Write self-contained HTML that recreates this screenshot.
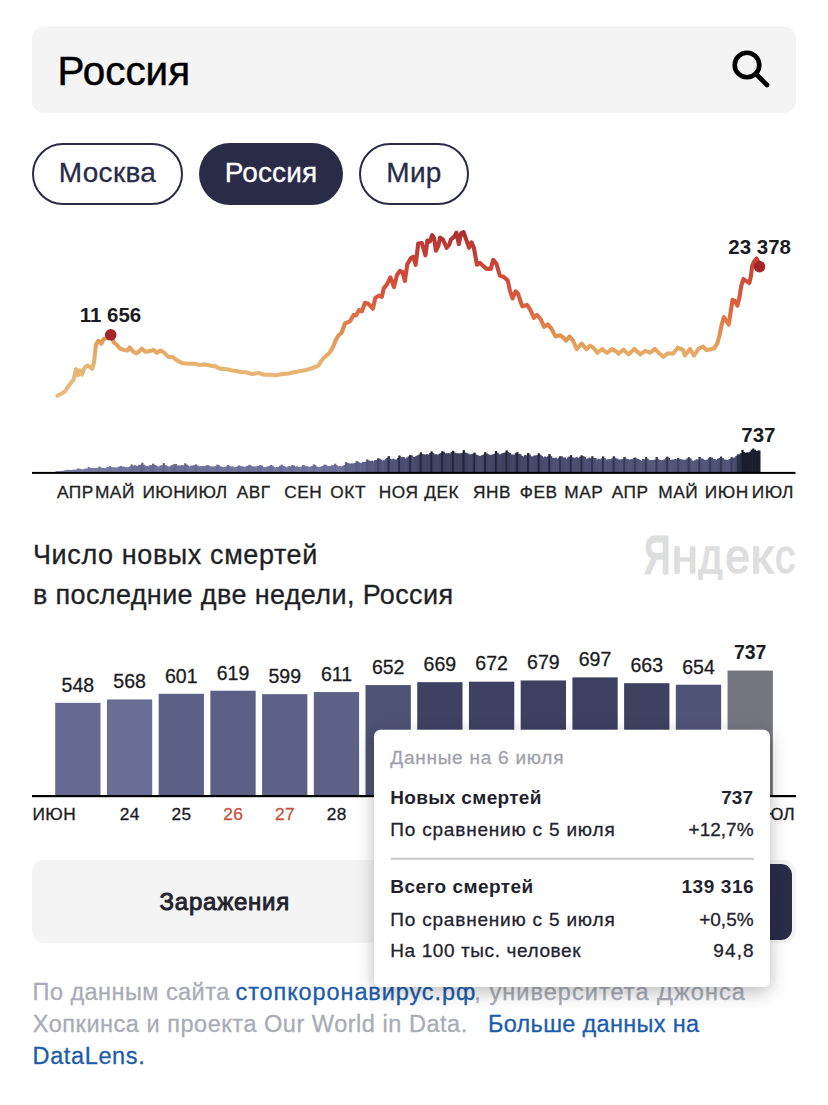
<!DOCTYPE html>
<html><head><meta charset="utf-8"><title>Россия</title>
<style>html,body{margin:0;padding:0;background:#fff;}body{width:828px;height:1105px;overflow:hidden;}
svg{display:block;font-family:"Liberation Sans", sans-serif;}</style></head>
<body><svg width="828" height="1105" viewBox="0 0 828 1105">
<rect x="32" y="26.5" width="764" height="86.5" rx="12" fill="#f4f4f4"/>
<text x="57.6" y="85" font-size="40.4" font-weight="400" fill="#000" text-anchor="start" stroke="#000" stroke-width="0.5">Россия</text>
<circle cx="747" cy="65" r="12.3" fill="none" stroke="#000" stroke-width="4.6"/>
<line x1="756.5" y1="74.5" x2="767" y2="85" stroke="#000" stroke-width="4.6" stroke-linecap="round"/>
<rect x="33" y="144" width="149" height="60" rx="30" fill="#fff" stroke="#2a2b47" stroke-width="2"/>
<text x="107.5" y="182" font-size="28" font-weight="400" fill="#2a2b47" text-anchor="middle" letter-spacing="0.3" stroke="#2a2b47" stroke-width="0.3">Москва</text>
<rect x="199" y="143" width="144" height="62" rx="31" fill="#2a2b47"/>
<text x="271.0" y="182" font-size="28" font-weight="400" fill="#fff" text-anchor="middle" letter-spacing="0.15" stroke="#fff" stroke-width="0.3">Россия</text>
<rect x="360" y="144" width="108" height="60" rx="30" fill="#fff" stroke="#2a2b47" stroke-width="2"/>
<text x="414.0" y="182" font-size="28" font-weight="400" fill="#2a2b47" text-anchor="middle" letter-spacing="0.3" stroke="#2a2b47" stroke-width="0.3">Мир</text>
<defs><linearGradient id="lg" gradientUnits="userSpaceOnUse" x1="0" y1="396" x2="0" y2="232">
<stop offset="0" stop-color="#e8bc7c"/><stop offset="0.19" stop-color="#e6b371"/><stop offset="0.28" stop-color="#e6a864"/><stop offset="0.36" stop-color="#e19452"/>
<stop offset="0.463" stop-color="#de7947"/><stop offset="0.567" stop-color="#da5d3d"/><stop offset="0.756" stop-color="#cf4737"/><stop offset="0.933" stop-color="#bd3934"/><stop offset="1" stop-color="#a82c2e"/></linearGradient>
<filter id="sh" x="-20%" y="-20%" width="140%" height="145%"><feDropShadow dx="0" dy="5" stdDeviation="9" flood-color="#000" flood-opacity="0.26"/></filter></defs>
<path d="M57.5,395.7 L62.1,393.3 L65.1,391.5 L69.3,384.9 L73.6,379.4 L76.0,369.2 L78.0,375.2 L79.6,370.4 L82.0,374.6 L84.4,368.0 L87.4,365.6 L89.9,366.8 L92.3,368.6 L94.1,361.9 L95.9,345.0 L98.3,340.8 L101.3,343.8 L103.7,339.0 L106.8,337.8 L110.7,334.8 L114.0,342.6 L117.0,345.0 L120.0,348.6 L123.7,349.9 L127.3,350.5 L129.7,347.4 L133.3,351.7 L136.4,353.5 L139.4,351.1 L141.8,348.6 L145.4,351.7 L149.8,351.1 L153.5,349.9 L156.5,352.9 L160.7,350.5 L164.3,352.9 L168.0,356.6 L172.8,357.2 L177.6,360.8 L182.4,363.2 L188.5,363.8 L194.5,363.8 L199.3,365.0 L205.4,364.4 L210.2,365.6 L215.0,366.2 L219.9,368.6 L227.1,369.3 L232.0,370.5 L236.8,371.1 L241.6,372.3 L246.0,372.3 L252.1,374.1 L258.1,372.9 L264.2,374.7 L270.2,374.7 L276.2,375.3 L282.3,374.1 L288.3,373.5 L294.3,372.3 L300.4,371.1 L306.4,369.9 L312.5,368.0 L318.5,365.6 L320.9,361.4 L324.5,357.2 L329.4,353.0 L333.0,346.9 L336.0,339.7 L338.4,335.5 L341.5,333.0 L345.1,323.3 L349.9,321.5 L353.6,314.9 L356.0,315.5 L359.0,310.0 L362.0,311.3 L365.0,302.8 L368.6,304.0 L372.9,308.8 L375.3,298.0 L378.9,295.6 L381.9,296.8 L383.7,288.3 L386.8,284.7 L390.4,277.4 L394.0,287.1 L397.0,275.0 L400.0,270.8 L402.5,272.0 L404.9,281.0 L407.3,264.2 L410.9,258.1 L413.3,256.9 L415.7,264.8 L418.2,243.6 L421.8,243.0 L425.5,255.3 L427.4,240.5 L429.8,241.7 L432.2,235.1 L434.1,238.1 L435.9,250.8 L438.3,246.0 L440.1,237.5 L443.1,239.9 L446.7,247.8 L449.2,244.8 L451.0,239.3 L454.0,236.9 L456.4,232.7 L458.8,244.2 L461.2,233.3 L463.6,232.1 L466.1,239.3 L469.1,247.8 L471.5,242.3 L473.9,247.8 L476.9,264.7 L480.0,262.9 L483.0,265.9 L486.6,268.9 L490.8,268.9 L493.2,259.9 L496.3,263.5 L499.9,275.6 L503.5,276.8 L507.7,280.4 L510.1,291.3 L512.6,298.5 L515.6,291.3 L518.0,293.7 L521.6,304.5 L522.4,306.3 L527.2,305.1 L530.3,309.9 L533.9,317.8 L536.9,314.8 L540.5,319.0 L544.2,326.8 L547.8,324.4 L551.4,328.6 L555.6,336.5 L559.9,335.3 L563.5,337.7 L565.9,340.7 L569.5,336.5 L573.1,340.7 L576.8,349.2 L581.6,343.7 L586.4,349.2 L590.0,345.6 L593.7,348.0 L597.3,352.8 L602.1,349.2 L607.0,352.8 L611.8,349.2 L616.6,351.6 L618.6,353.8 L623.5,349.6 L628.3,354.4 L634.3,349.0 L640.4,354.4 L645.2,350.8 L650.0,352.6 L654.9,349.0 L658.5,352.6 L663.3,356.8 L668.1,353.2 L673.0,353.8 L677.8,347.8 L682.6,349.6 L685.0,355.6 L689.9,349.0 L694.1,355.6 L698.3,349.0 L703.2,346.5 L706.5,350.2 L710.5,349.2 L714.1,348.6 L717.4,343.1 L719.5,335.5 L721.7,324.7 L723.9,317.1 L726.6,320.9 L728.8,324.7 L731.0,309.5 L732.6,299.7 L734.7,300.8 L737.5,305.7 L739.6,296.5 L741.3,285.6 L743.4,279.1 L746.7,281.3 L749.4,282.9 L751.0,275.8 L752.1,266.1 L754.3,261.2 L756.5,258.5 L758.1,261.2 L759.5,266.6" fill="none" stroke="url(#lg)" stroke-width="4.1" stroke-linejoin="round" stroke-linecap="round"/>
<circle cx="110.7" cy="334.8" r="5.8" fill="#a3262b"/>
<circle cx="759.5" cy="266.6" r="5.8" fill="#a3262b"/>
<text x="110.5" y="321.5" font-size="20.5" font-weight="700" fill="#1b1b24" text-anchor="middle">11 656</text>
<text x="791" y="253.5" font-size="20.5" font-weight="700" fill="#1b1b24" text-anchor="end">23 378</text>
<rect x="55.50" y="471.17" width="2.23" height="1.03" fill="#8185a9"/>
<rect x="57.03" y="471.07" width="2.23" height="1.13" fill="#8084a9"/>
<rect x="58.56" y="471.10" width="2.23" height="1.10" fill="#8084a9"/>
<rect x="60.09" y="470.90" width="2.23" height="1.30" fill="#8084a9"/>
<rect x="61.62" y="470.87" width="2.23" height="1.33" fill="#8084a9"/>
<rect x="63.16" y="470.62" width="2.23" height="1.58" fill="#7f83a8"/>
<rect x="64.69" y="470.26" width="2.23" height="1.94" fill="#7e82a7"/>
<rect x="66.22" y="469.91" width="2.23" height="2.29" fill="#7d81a6"/>
<rect x="67.75" y="469.85" width="2.23" height="2.35" fill="#7c80a6"/>
<rect x="69.28" y="470.07" width="2.23" height="2.13" fill="#7d81a7"/>
<rect x="70.81" y="469.87" width="2.23" height="2.33" fill="#7d81a6"/>
<rect x="72.34" y="469.76" width="2.23" height="2.44" fill="#7c80a6"/>
<rect x="73.87" y="469.62" width="2.23" height="2.58" fill="#7c80a6"/>
<rect x="75.40" y="469.45" width="2.23" height="2.75" fill="#7b7fa5"/>
<rect x="76.94" y="468.39" width="2.23" height="3.81" fill="#787ca3"/>
<rect x="78.47" y="468.71" width="2.23" height="3.49" fill="#797da3"/>
<rect x="80.00" y="469.15" width="2.23" height="3.05" fill="#7a7ea4"/>
<rect x="81.53" y="469.36" width="2.23" height="2.84" fill="#7b7fa5"/>
<rect x="83.06" y="469.04" width="2.23" height="3.16" fill="#7a7ea4"/>
<rect x="84.59" y="468.57" width="2.23" height="3.63" fill="#787ca3"/>
<rect x="86.12" y="468.52" width="2.23" height="3.68" fill="#787ca3"/>
<rect x="87.65" y="466.93" width="2.23" height="5.27" fill="#73779f"/>
<rect x="89.18" y="467.99" width="2.23" height="4.21" fill="#767aa2"/>
<rect x="90.72" y="467.99" width="2.23" height="4.21" fill="#767aa2"/>
<rect x="92.25" y="468.02" width="2.23" height="4.18" fill="#777ba2"/>
<rect x="93.78" y="468.01" width="2.23" height="4.19" fill="#777ba2"/>
<rect x="95.31" y="467.87" width="2.23" height="4.33" fill="#767aa1"/>
<rect x="96.84" y="467.88" width="2.23" height="4.32" fill="#767aa1"/>
<rect x="98.37" y="466.47" width="2.23" height="5.73" fill="#71759d"/>
<rect x="99.90" y="467.43" width="2.23" height="4.77" fill="#7579a0"/>
<rect x="101.43" y="467.97" width="2.23" height="4.23" fill="#767aa2"/>
<rect x="102.96" y="467.91" width="2.23" height="4.29" fill="#767aa1"/>
<rect x="104.49" y="468.07" width="2.23" height="4.13" fill="#777ba2"/>
<rect x="106.03" y="467.33" width="2.23" height="4.87" fill="#7478a0"/>
<rect x="107.56" y="466.89" width="2.23" height="5.31" fill="#73779f"/>
<rect x="109.09" y="466.07" width="2.23" height="6.13" fill="#6f739b"/>
<rect x="110.62" y="467.15" width="2.23" height="5.05" fill="#7478a0"/>
<rect x="112.15" y="467.41" width="2.23" height="4.79" fill="#7579a0"/>
<rect x="113.68" y="467.45" width="2.23" height="4.75" fill="#7579a0"/>
<rect x="115.21" y="467.70" width="2.23" height="4.50" fill="#767aa1"/>
<rect x="116.74" y="467.19" width="2.23" height="5.01" fill="#7478a0"/>
<rect x="118.27" y="466.52" width="2.23" height="5.68" fill="#71759d"/>
<rect x="119.81" y="465.91" width="2.23" height="6.29" fill="#6e729a"/>
<rect x="121.34" y="466.55" width="2.23" height="5.65" fill="#71759d"/>
<rect x="122.87" y="466.64" width="2.23" height="5.56" fill="#72769e"/>
<rect x="124.40" y="467.18" width="2.23" height="5.02" fill="#7478a0"/>
<rect x="125.93" y="467.12" width="2.23" height="5.08" fill="#7478a0"/>
<rect x="127.46" y="467.09" width="2.23" height="5.11" fill="#74789f"/>
<rect x="128.99" y="466.36" width="2.23" height="5.84" fill="#70749c"/>
<rect x="130.52" y="464.38" width="2.23" height="7.82" fill="#676b92"/>
<rect x="132.05" y="465.83" width="2.23" height="6.37" fill="#6e729a"/>
<rect x="133.59" y="465.20" width="2.23" height="7.00" fill="#6b6f97"/>
<rect x="135.12" y="465.62" width="2.23" height="6.58" fill="#6d7199"/>
<rect x="136.65" y="466.06" width="2.23" height="6.14" fill="#6f739b"/>
<rect x="138.18" y="464.79" width="2.23" height="7.41" fill="#696d94"/>
<rect x="139.71" y="464.67" width="2.23" height="7.53" fill="#686c94"/>
<rect x="141.24" y="462.68" width="2.23" height="9.52" fill="#5f638a"/>
<rect x="142.77" y="464.70" width="2.23" height="7.50" fill="#696d94"/>
<rect x="144.30" y="465.72" width="2.23" height="6.48" fill="#6d7199"/>
<rect x="145.83" y="465.82" width="2.23" height="6.38" fill="#6e729a"/>
<rect x="147.37" y="466.33" width="2.23" height="5.87" fill="#70749c"/>
<rect x="148.90" y="465.15" width="2.23" height="7.05" fill="#6b6f96"/>
<rect x="150.43" y="465.10" width="2.23" height="7.10" fill="#6a6e96"/>
<rect x="151.96" y="463.62" width="2.23" height="8.58" fill="#63678f"/>
<rect x="153.49" y="464.73" width="2.23" height="7.47" fill="#696d94"/>
<rect x="155.02" y="465.42" width="2.23" height="6.78" fill="#6c7098"/>
<rect x="156.55" y="466.30" width="2.23" height="5.90" fill="#70749c"/>
<rect x="158.08" y="466.54" width="2.23" height="5.66" fill="#71759d"/>
<rect x="159.61" y="465.50" width="2.23" height="6.70" fill="#6c7098"/>
<rect x="161.14" y="465.18" width="2.23" height="7.02" fill="#6b6f96"/>
<rect x="162.68" y="463.05" width="2.23" height="9.15" fill="#61658c"/>
<rect x="164.21" y="465.00" width="2.23" height="7.20" fill="#6a6e95"/>
<rect x="165.74" y="465.77" width="2.23" height="6.43" fill="#6e7299"/>
<rect x="167.27" y="466.57" width="2.23" height="5.63" fill="#71759d"/>
<rect x="168.80" y="466.43" width="2.23" height="5.77" fill="#71759d"/>
<rect x="170.33" y="465.31" width="2.23" height="6.89" fill="#6b6f97"/>
<rect x="171.86" y="464.87" width="2.23" height="7.33" fill="#696d95"/>
<rect x="173.39" y="463.93" width="2.23" height="8.27" fill="#656990"/>
<rect x="174.92" y="464.16" width="2.23" height="8.04" fill="#666a91"/>
<rect x="176.46" y="465.58" width="2.23" height="6.62" fill="#6d7198"/>
<rect x="177.99" y="465.53" width="2.23" height="6.67" fill="#6c7098"/>
<rect x="179.52" y="465.55" width="2.23" height="6.65" fill="#6d7198"/>
<rect x="181.05" y="465.07" width="2.23" height="7.13" fill="#6a6e96"/>
<rect x="182.58" y="465.44" width="2.23" height="6.76" fill="#6c7098"/>
<rect x="184.11" y="463.30" width="2.23" height="8.90" fill="#62668d"/>
<rect x="185.64" y="464.53" width="2.23" height="7.67" fill="#686c93"/>
<rect x="187.17" y="465.55" width="2.23" height="6.65" fill="#6d7198"/>
<rect x="188.70" y="466.51" width="2.23" height="5.69" fill="#71759d"/>
<rect x="190.24" y="465.57" width="2.23" height="6.63" fill="#6d7198"/>
<rect x="191.77" y="465.65" width="2.23" height="6.55" fill="#6d7199"/>
<rect x="193.30" y="465.22" width="2.23" height="6.98" fill="#6b6f97"/>
<rect x="194.83" y="464.41" width="2.23" height="7.79" fill="#676b93"/>
<rect x="196.36" y="465.46" width="2.23" height="6.74" fill="#6c7098"/>
<rect x="197.89" y="466.38" width="2.23" height="5.82" fill="#71759c"/>
<rect x="199.42" y="466.04" width="2.23" height="6.16" fill="#6f739b"/>
<rect x="200.95" y="466.36" width="2.23" height="5.84" fill="#70749c"/>
<rect x="202.48" y="465.98" width="2.23" height="6.22" fill="#6f739a"/>
<rect x="204.02" y="466.16" width="2.23" height="6.04" fill="#70749b"/>
<rect x="205.55" y="465.15" width="2.23" height="7.05" fill="#6b6f96"/>
<rect x="207.08" y="465.25" width="2.23" height="6.95" fill="#6b6f97"/>
<rect x="208.61" y="466.08" width="2.23" height="6.12" fill="#6f739b"/>
<rect x="210.14" y="466.47" width="2.23" height="5.73" fill="#71759d"/>
<rect x="211.67" y="466.55" width="2.23" height="5.65" fill="#71759d"/>
<rect x="213.20" y="466.49" width="2.23" height="5.71" fill="#71759d"/>
<rect x="214.73" y="466.12" width="2.23" height="6.08" fill="#6f739b"/>
<rect x="216.26" y="464.63" width="2.23" height="7.57" fill="#686c94"/>
<rect x="217.80" y="465.27" width="2.23" height="6.93" fill="#6b6f97"/>
<rect x="219.33" y="466.45" width="2.23" height="5.75" fill="#71759d"/>
<rect x="220.86" y="466.69" width="2.23" height="5.51" fill="#72769e"/>
<rect x="222.39" y="466.99" width="2.23" height="5.21" fill="#73779f"/>
<rect x="223.92" y="467.08" width="2.23" height="5.12" fill="#74789f"/>
<rect x="225.45" y="466.30" width="2.23" height="5.90" fill="#70749c"/>
<rect x="226.98" y="465.00" width="2.23" height="7.20" fill="#6a6e95"/>
<rect x="228.51" y="466.03" width="2.23" height="6.17" fill="#6f739b"/>
<rect x="230.04" y="466.80" width="2.23" height="5.40" fill="#73779f"/>
<rect x="231.57" y="466.39" width="2.23" height="5.81" fill="#71759c"/>
<rect x="233.11" y="467.41" width="2.23" height="4.79" fill="#7579a0"/>
<rect x="234.64" y="466.94" width="2.23" height="5.26" fill="#73779f"/>
<rect x="236.17" y="466.57" width="2.23" height="5.63" fill="#71759d"/>
<rect x="237.70" y="465.39" width="2.23" height="6.81" fill="#6c7097"/>
<rect x="239.23" y="465.85" width="2.23" height="6.35" fill="#6e729a"/>
<rect x="240.76" y="466.55" width="2.23" height="5.65" fill="#71759d"/>
<rect x="242.29" y="466.51" width="2.23" height="5.69" fill="#71759d"/>
<rect x="243.82" y="467.17" width="2.23" height="5.03" fill="#7478a0"/>
<rect x="245.35" y="466.21" width="2.23" height="5.99" fill="#70749c"/>
<rect x="246.89" y="465.75" width="2.23" height="6.45" fill="#6e7299"/>
<rect x="248.42" y="464.82" width="2.23" height="7.38" fill="#696d95"/>
<rect x="249.95" y="465.67" width="2.23" height="6.53" fill="#6d7199"/>
<rect x="251.48" y="466.55" width="2.23" height="5.65" fill="#71759d"/>
<rect x="253.01" y="466.52" width="2.23" height="5.68" fill="#71759d"/>
<rect x="254.54" y="466.54" width="2.23" height="5.66" fill="#71759d"/>
<rect x="256.07" y="466.37" width="2.23" height="5.83" fill="#71759c"/>
<rect x="257.60" y="465.86" width="2.23" height="6.34" fill="#6e729a"/>
<rect x="259.13" y="465.07" width="2.23" height="7.13" fill="#6a6e96"/>
<rect x="260.67" y="465.57" width="2.23" height="6.63" fill="#6d7198"/>
<rect x="262.20" y="467.16" width="2.23" height="5.04" fill="#7478a0"/>
<rect x="263.73" y="467.14" width="2.23" height="5.06" fill="#7478a0"/>
<rect x="265.26" y="466.70" width="2.23" height="5.50" fill="#72769e"/>
<rect x="266.79" y="466.46" width="2.23" height="5.74" fill="#71759d"/>
<rect x="268.32" y="466.08" width="2.23" height="6.12" fill="#6f739b"/>
<rect x="269.85" y="465.00" width="2.23" height="7.20" fill="#6a6e96"/>
<rect x="271.38" y="465.62" width="2.23" height="6.58" fill="#6d7199"/>
<rect x="272.91" y="467.09" width="2.23" height="5.11" fill="#74789f"/>
<rect x="274.45" y="467.51" width="2.23" height="4.69" fill="#7579a0"/>
<rect x="275.98" y="467.00" width="2.23" height="5.20" fill="#73779f"/>
<rect x="277.51" y="466.67" width="2.23" height="5.53" fill="#72769e"/>
<rect x="279.04" y="465.74" width="2.23" height="6.46" fill="#6d7199"/>
<rect x="280.57" y="464.65" width="2.23" height="7.55" fill="#686c94"/>
<rect x="282.10" y="465.80" width="2.23" height="6.40" fill="#6e7299"/>
<rect x="283.63" y="466.39" width="2.23" height="5.81" fill="#71759c"/>
<rect x="285.16" y="467.29" width="2.23" height="4.91" fill="#7478a0"/>
<rect x="286.69" y="466.61" width="2.23" height="5.59" fill="#72769e"/>
<rect x="288.23" y="466.10" width="2.23" height="6.10" fill="#6f739b"/>
<rect x="289.76" y="466.64" width="2.23" height="5.56" fill="#72769e"/>
<rect x="291.29" y="465.05" width="2.23" height="7.15" fill="#6a6e96"/>
<rect x="292.82" y="465.52" width="2.23" height="6.68" fill="#6c7098"/>
<rect x="294.35" y="466.65" width="2.23" height="5.55" fill="#72769e"/>
<rect x="295.88" y="466.35" width="2.23" height="5.85" fill="#70749c"/>
<rect x="297.41" y="466.97" width="2.23" height="5.23" fill="#73779f"/>
<rect x="298.94" y="467.12" width="2.23" height="5.08" fill="#7478a0"/>
<rect x="300.47" y="466.47" width="2.23" height="5.73" fill="#71759d"/>
<rect x="302.00" y="465.12" width="2.23" height="7.08" fill="#6b6f96"/>
<rect x="303.54" y="465.50" width="2.23" height="6.70" fill="#6c7098"/>
<rect x="305.07" y="466.30" width="2.23" height="5.90" fill="#70749c"/>
<rect x="306.60" y="466.33" width="2.23" height="5.87" fill="#70749c"/>
<rect x="308.13" y="467.07" width="2.23" height="5.13" fill="#74789f"/>
<rect x="309.66" y="466.40" width="2.23" height="5.80" fill="#71759c"/>
<rect x="311.19" y="466.14" width="2.23" height="6.06" fill="#6f739b"/>
<rect x="312.72" y="464.39" width="2.23" height="7.81" fill="#676b92"/>
<rect x="314.25" y="465.19" width="2.23" height="7.01" fill="#6b6f96"/>
<rect x="315.78" y="466.60" width="2.23" height="5.60" fill="#72769d"/>
<rect x="317.32" y="467.08" width="2.23" height="5.12" fill="#74789f"/>
<rect x="318.85" y="466.96" width="2.23" height="5.24" fill="#73779f"/>
<rect x="320.38" y="466.50" width="2.23" height="5.70" fill="#71759d"/>
<rect x="321.91" y="465.95" width="2.23" height="6.25" fill="#6e729a"/>
<rect x="323.44" y="464.59" width="2.23" height="7.61" fill="#686c93"/>
<rect x="324.97" y="464.92" width="2.23" height="7.28" fill="#6a6e95"/>
<rect x="326.50" y="466.02" width="2.23" height="6.18" fill="#6f739b"/>
<rect x="328.03" y="466.10" width="2.23" height="6.10" fill="#6f739b"/>
<rect x="329.56" y="465.73" width="2.23" height="6.47" fill="#6d7199"/>
<rect x="331.10" y="465.30" width="2.23" height="6.90" fill="#6b6f97"/>
<rect x="332.63" y="465.03" width="2.23" height="7.17" fill="#6a6e96"/>
<rect x="334.16" y="463.69" width="2.23" height="8.51" fill="#64688f"/>
<rect x="335.69" y="465.25" width="2.23" height="6.95" fill="#6b6f97"/>
<rect x="337.22" y="466.36" width="2.23" height="5.84" fill="#70749c"/>
<rect x="338.75" y="465.99" width="2.23" height="6.21" fill="#6f739a"/>
<rect x="340.28" y="466.53" width="2.23" height="5.67" fill="#71759d"/>
<rect x="341.81" y="465.90" width="2.23" height="6.30" fill="#6e729a"/>
<rect x="343.34" y="464.94" width="2.23" height="7.26" fill="#6a6e95"/>
<rect x="344.88" y="462.20" width="2.23" height="10.00" fill="#5d6187"/>
<rect x="346.41" y="462.87" width="2.23" height="9.33" fill="#60648b"/>
<rect x="347.94" y="463.56" width="2.23" height="8.64" fill="#63678e"/>
<rect x="349.47" y="463.60" width="2.23" height="8.60" fill="#63678e"/>
<rect x="351.00" y="463.41" width="2.23" height="8.79" fill="#62668e"/>
<rect x="352.53" y="463.41" width="2.23" height="8.79" fill="#62668e"/>
<rect x="354.06" y="462.97" width="2.23" height="9.23" fill="#60648b"/>
<rect x="355.59" y="461.10" width="2.23" height="11.10" fill="#585c82"/>
<rect x="357.12" y="461.65" width="2.23" height="10.55" fill="#5a5e84"/>
<rect x="358.66" y="462.75" width="2.23" height="9.45" fill="#5f638a"/>
<rect x="360.19" y="463.21" width="2.23" height="8.99" fill="#61658d"/>
<rect x="361.72" y="461.99" width="2.23" height="10.21" fill="#5c6086"/>
<rect x="363.25" y="462.20" width="2.23" height="10.00" fill="#5d6187"/>
<rect x="364.78" y="461.66" width="2.23" height="10.54" fill="#5a5e84"/>
<rect x="366.31" y="459.61" width="2.23" height="12.59" fill="#4f5377"/>
<rect x="367.84" y="460.62" width="2.23" height="11.58" fill="#565a7f"/>
<rect x="369.37" y="460.94" width="2.23" height="11.26" fill="#575b81"/>
<rect x="370.90" y="460.62" width="2.23" height="11.58" fill="#565a7f"/>
<rect x="372.44" y="461.46" width="2.23" height="10.74" fill="#5a5e83"/>
<rect x="373.97" y="460.04" width="2.23" height="12.16" fill="#53577c"/>
<rect x="375.50" y="459.95" width="2.23" height="12.25" fill="#53577c"/>
<rect x="377.03" y="458.48" width="2.23" height="13.72" fill="#434666"/>
<rect x="378.56" y="458.71" width="2.23" height="13.49" fill="#4e5175"/>
<rect x="380.09" y="459.58" width="2.23" height="12.62" fill="#51557a"/>
<rect x="381.62" y="460.70" width="2.23" height="11.50" fill="#565a7f"/>
<rect x="383.15" y="460.31" width="2.23" height="11.89" fill="#54587d"/>
<rect x="384.68" y="458.80" width="2.23" height="13.40" fill="#4e5276"/>
<rect x="386.21" y="457.93" width="2.23" height="14.27" fill="#4c4f72"/>
<rect x="387.75" y="456.26" width="2.23" height="15.94" fill="#30334c"/>
<rect x="389.28" y="458.66" width="2.23" height="13.54" fill="#4d5175"/>
<rect x="390.81" y="459.40" width="2.23" height="12.80" fill="#505479"/>
<rect x="392.34" y="458.63" width="2.23" height="13.57" fill="#4d5175"/>
<rect x="393.87" y="459.72" width="2.23" height="12.48" fill="#52567a"/>
<rect x="395.40" y="459.35" width="2.23" height="12.85" fill="#505478"/>
<rect x="396.93" y="457.93" width="2.23" height="14.27" fill="#4c4f72"/>
<rect x="398.46" y="455.64" width="2.23" height="16.56" fill="#2c2e46"/>
<rect x="399.99" y="457.06" width="2.23" height="15.14" fill="#494d6f"/>
<rect x="401.53" y="457.19" width="2.23" height="15.01" fill="#4a4d6f"/>
<rect x="403.06" y="457.20" width="2.23" height="15.00" fill="#4a4d6f"/>
<rect x="404.59" y="458.63" width="2.23" height="13.57" fill="#4d5175"/>
<rect x="406.12" y="457.41" width="2.23" height="14.79" fill="#4a4e70"/>
<rect x="407.65" y="456.30" width="2.23" height="15.90" fill="#474b6c"/>
<rect x="409.18" y="455.13" width="2.23" height="17.07" fill="#282b42"/>
<rect x="410.71" y="455.42" width="2.23" height="16.78" fill="#454868"/>
<rect x="412.24" y="456.90" width="2.23" height="15.30" fill="#494d6e"/>
<rect x="413.77" y="457.01" width="2.23" height="15.19" fill="#494d6e"/>
<rect x="415.31" y="455.91" width="2.23" height="16.29" fill="#474a6a"/>
<rect x="416.84" y="455.25" width="2.23" height="16.95" fill="#454867"/>
<rect x="418.37" y="454.38" width="2.23" height="17.82" fill="#424564"/>
<rect x="419.90" y="452.45" width="2.23" height="19.75" fill="#24263c"/>
<rect x="421.43" y="454.06" width="2.23" height="18.14" fill="#414462"/>
<rect x="422.96" y="454.29" width="2.23" height="17.91" fill="#424563"/>
<rect x="424.49" y="454.71" width="2.23" height="17.49" fill="#434665"/>
<rect x="426.02" y="454.10" width="2.23" height="18.10" fill="#414462"/>
<rect x="427.55" y="454.65" width="2.23" height="17.55" fill="#434665"/>
<rect x="429.09" y="453.03" width="2.23" height="19.17" fill="#3d405e"/>
<rect x="430.62" y="451.57" width="2.23" height="20.63" fill="#24263b"/>
<rect x="432.15" y="453.04" width="2.23" height="19.16" fill="#3d405e"/>
<rect x="433.68" y="454.52" width="2.23" height="17.68" fill="#434664"/>
<rect x="435.21" y="454.12" width="2.23" height="18.08" fill="#414462"/>
<rect x="436.74" y="454.99" width="2.23" height="17.21" fill="#444766"/>
<rect x="438.27" y="453.78" width="2.23" height="18.42" fill="#404361"/>
<rect x="439.80" y="453.05" width="2.23" height="19.15" fill="#3e415e"/>
<rect x="441.33" y="451.37" width="2.23" height="20.83" fill="#23263b"/>
<rect x="442.87" y="451.79" width="2.23" height="20.41" fill="#3a3d59"/>
<rect x="444.40" y="453.39" width="2.23" height="18.81" fill="#3f425f"/>
<rect x="445.93" y="453.31" width="2.23" height="18.89" fill="#3e415f"/>
<rect x="447.46" y="453.05" width="2.23" height="19.15" fill="#3e415e"/>
<rect x="448.99" y="453.76" width="2.23" height="18.44" fill="#404361"/>
<rect x="450.52" y="452.02" width="2.23" height="20.18" fill="#3b3e5a"/>
<rect x="452.05" y="450.86" width="2.23" height="21.34" fill="#23253a"/>
<rect x="453.58" y="452.51" width="2.23" height="19.69" fill="#3c3f5c"/>
<rect x="455.11" y="453.20" width="2.23" height="19.00" fill="#3e415e"/>
<rect x="456.64" y="453.19" width="2.23" height="19.01" fill="#3e415e"/>
<rect x="458.18" y="453.55" width="2.23" height="18.65" fill="#3f4260"/>
<rect x="459.71" y="453.14" width="2.23" height="19.06" fill="#3e415e"/>
<rect x="461.24" y="452.94" width="2.23" height="19.26" fill="#3d405d"/>
<rect x="462.77" y="450.38" width="2.23" height="21.82" fill="#22253a"/>
<rect x="464.30" y="452.53" width="2.23" height="19.67" fill="#3c3f5c"/>
<rect x="465.83" y="453.16" width="2.23" height="19.04" fill="#3e415e"/>
<rect x="467.36" y="453.73" width="2.23" height="18.47" fill="#404361"/>
<rect x="468.89" y="454.76" width="2.23" height="17.44" fill="#444765"/>
<rect x="470.42" y="454.11" width="2.23" height="18.09" fill="#414462"/>
<rect x="471.96" y="453.78" width="2.23" height="18.42" fill="#404361"/>
<rect x="473.49" y="452.77" width="2.23" height="19.43" fill="#24273c"/>
<rect x="475.02" y="454.58" width="2.23" height="17.62" fill="#434665"/>
<rect x="476.55" y="455.11" width="2.23" height="17.09" fill="#454867"/>
<rect x="478.08" y="456.05" width="2.23" height="16.15" fill="#474a6b"/>
<rect x="479.61" y="455.82" width="2.23" height="16.38" fill="#464a6a"/>
<rect x="481.14" y="455.12" width="2.23" height="17.08" fill="#454867"/>
<rect x="482.67" y="454.50" width="2.23" height="17.70" fill="#434664"/>
<rect x="484.20" y="452.31" width="2.23" height="19.89" fill="#24263c"/>
<rect x="485.74" y="453.53" width="2.23" height="18.67" fill="#3f4260"/>
<rect x="487.27" y="454.23" width="2.23" height="17.97" fill="#424563"/>
<rect x="488.80" y="455.17" width="2.23" height="17.03" fill="#454867"/>
<rect x="490.33" y="454.76" width="2.23" height="17.44" fill="#444765"/>
<rect x="491.86" y="454.47" width="2.23" height="17.73" fill="#424564"/>
<rect x="493.39" y="453.79" width="2.23" height="18.41" fill="#404361"/>
<rect x="494.92" y="451.02" width="2.23" height="21.18" fill="#23253b"/>
<rect x="496.45" y="452.72" width="2.23" height="19.48" fill="#3d405c"/>
<rect x="497.98" y="454.26" width="2.23" height="17.94" fill="#424563"/>
<rect x="499.52" y="454.41" width="2.23" height="17.79" fill="#424564"/>
<rect x="501.05" y="453.33" width="2.23" height="18.87" fill="#3e415f"/>
<rect x="502.58" y="452.86" width="2.23" height="19.34" fill="#3d405d"/>
<rect x="504.11" y="452.72" width="2.23" height="19.48" fill="#3d405c"/>
<rect x="505.64" y="450.58" width="2.23" height="21.62" fill="#23253a"/>
<rect x="507.17" y="452.21" width="2.23" height="19.99" fill="#3b3e5a"/>
<rect x="508.70" y="452.99" width="2.23" height="19.21" fill="#3d405d"/>
<rect x="510.23" y="454.40" width="2.23" height="17.80" fill="#424564"/>
<rect x="511.76" y="454.74" width="2.23" height="17.46" fill="#434665"/>
<rect x="513.30" y="454.58" width="2.23" height="17.62" fill="#434665"/>
<rect x="514.83" y="452.90" width="2.23" height="19.30" fill="#3d405d"/>
<rect x="516.36" y="452.40" width="2.23" height="19.80" fill="#24263c"/>
<rect x="517.89" y="453.82" width="2.23" height="18.38" fill="#404361"/>
<rect x="519.42" y="454.20" width="2.23" height="18.00" fill="#424563"/>
<rect x="520.95" y="455.99" width="2.23" height="16.21" fill="#474a6a"/>
<rect x="522.48" y="456.44" width="2.23" height="15.76" fill="#484b6c"/>
<rect x="524.01" y="454.95" width="2.23" height="17.25" fill="#444766"/>
<rect x="525.54" y="455.45" width="2.23" height="16.75" fill="#454968"/>
<rect x="527.07" y="452.99" width="2.23" height="19.21" fill="#24273d"/>
<rect x="528.61" y="454.47" width="2.23" height="17.73" fill="#424564"/>
<rect x="530.14" y="456.30" width="2.23" height="15.90" fill="#474b6c"/>
<rect x="531.67" y="456.48" width="2.23" height="15.72" fill="#484b6c"/>
<rect x="533.20" y="455.53" width="2.23" height="16.67" fill="#464969"/>
<rect x="534.73" y="455.50" width="2.23" height="16.70" fill="#464968"/>
<rect x="536.26" y="455.14" width="2.23" height="17.06" fill="#454867"/>
<rect x="537.79" y="453.46" width="2.23" height="18.74" fill="#25273e"/>
<rect x="539.32" y="454.73" width="2.23" height="17.47" fill="#434665"/>
<rect x="540.85" y="456.13" width="2.23" height="16.07" fill="#474a6b"/>
<rect x="542.39" y="457.38" width="2.23" height="14.82" fill="#4a4e70"/>
<rect x="543.92" y="456.56" width="2.23" height="15.64" fill="#484c6d"/>
<rect x="545.45" y="457.10" width="2.23" height="15.10" fill="#4a4d6f"/>
<rect x="546.98" y="456.36" width="2.23" height="15.84" fill="#484b6c"/>
<rect x="548.51" y="454.21" width="2.23" height="17.99" fill="#26283f"/>
<rect x="550.04" y="456.14" width="2.23" height="16.06" fill="#474a6b"/>
<rect x="551.57" y="457.74" width="2.23" height="14.46" fill="#4b4f71"/>
<rect x="553.10" y="458.10" width="2.23" height="14.10" fill="#4c5073"/>
<rect x="554.63" y="457.61" width="2.23" height="14.59" fill="#4b4e71"/>
<rect x="556.17" y="458.72" width="2.23" height="13.48" fill="#4e5275"/>
<rect x="557.70" y="457.75" width="2.23" height="14.45" fill="#4b4f71"/>
<rect x="559.23" y="456.41" width="2.23" height="15.79" fill="#32344e"/>
<rect x="560.76" y="456.29" width="2.23" height="15.91" fill="#474b6c"/>
<rect x="562.29" y="457.52" width="2.23" height="14.68" fill="#4b4e70"/>
<rect x="563.82" y="457.53" width="2.23" height="14.67" fill="#4b4e71"/>
<rect x="565.35" y="458.79" width="2.23" height="13.41" fill="#4e5276"/>
<rect x="566.88" y="457.44" width="2.23" height="14.76" fill="#4a4e70"/>
<rect x="568.41" y="456.46" width="2.23" height="15.74" fill="#484b6c"/>
<rect x="569.95" y="455.24" width="2.23" height="16.96" fill="#292b42"/>
<rect x="571.48" y="457.24" width="2.23" height="14.96" fill="#4a4d6f"/>
<rect x="573.01" y="458.00" width="2.23" height="14.20" fill="#4c5072"/>
<rect x="574.54" y="457.42" width="2.23" height="14.78" fill="#4a4e70"/>
<rect x="576.07" y="457.26" width="2.23" height="14.94" fill="#4a4d6f"/>
<rect x="577.60" y="457.90" width="2.23" height="14.30" fill="#4c4f72"/>
<rect x="579.13" y="456.72" width="2.23" height="15.48" fill="#494c6d"/>
<rect x="580.66" y="455.48" width="2.23" height="16.72" fill="#2a2d45"/>
<rect x="582.19" y="455.97" width="2.23" height="16.23" fill="#474a6a"/>
<rect x="583.73" y="457.07" width="2.23" height="15.13" fill="#494d6f"/>
<rect x="585.26" y="458.64" width="2.23" height="13.56" fill="#4d5175"/>
<rect x="586.79" y="458.48" width="2.23" height="13.72" fill="#4d5174"/>
<rect x="588.32" y="457.56" width="2.23" height="14.64" fill="#4b4e71"/>
<rect x="589.85" y="458.35" width="2.23" height="13.85" fill="#4d5074"/>
<rect x="591.38" y="456.37" width="2.23" height="15.83" fill="#31344e"/>
<rect x="592.91" y="458.04" width="2.23" height="14.16" fill="#4c5073"/>
<rect x="594.44" y="458.00" width="2.23" height="14.20" fill="#4c5072"/>
<rect x="595.97" y="459.74" width="2.23" height="12.46" fill="#52567a"/>
<rect x="597.50" y="458.69" width="2.23" height="13.51" fill="#4d5175"/>
<rect x="599.04" y="459.57" width="2.23" height="12.63" fill="#515579"/>
<rect x="600.57" y="458.26" width="2.23" height="13.94" fill="#4c5073"/>
<rect x="602.10" y="456.52" width="2.23" height="15.68" fill="#32354f"/>
<rect x="603.63" y="458.20" width="2.23" height="14.00" fill="#4c5073"/>
<rect x="605.16" y="459.83" width="2.23" height="12.37" fill="#52567b"/>
<rect x="606.69" y="459.22" width="2.23" height="12.98" fill="#4f5378"/>
<rect x="608.22" y="459.14" width="2.23" height="13.06" fill="#4f5377"/>
<rect x="609.75" y="459.31" width="2.23" height="12.89" fill="#505478"/>
<rect x="611.28" y="458.19" width="2.23" height="14.01" fill="#4c5073"/>
<rect x="612.82" y="456.42" width="2.23" height="15.78" fill="#32344e"/>
<rect x="614.35" y="457.85" width="2.23" height="14.35" fill="#4b4f72"/>
<rect x="615.88" y="458.71" width="2.23" height="13.49" fill="#4e5175"/>
<rect x="617.41" y="459.39" width="2.23" height="12.81" fill="#505479"/>
<rect x="618.94" y="459.71" width="2.23" height="12.49" fill="#52567a"/>
<rect x="620.47" y="459.23" width="2.23" height="12.97" fill="#505478"/>
<rect x="622.00" y="459.30" width="2.23" height="12.90" fill="#505478"/>
<rect x="623.53" y="456.97" width="2.23" height="15.23" fill="#363954"/>
<rect x="625.06" y="458.60" width="2.23" height="13.60" fill="#4d5175"/>
<rect x="626.60" y="459.09" width="2.23" height="13.11" fill="#4f5377"/>
<rect x="628.13" y="459.76" width="2.23" height="12.44" fill="#52567b"/>
<rect x="629.66" y="459.34" width="2.23" height="12.86" fill="#505478"/>
<rect x="631.19" y="459.21" width="2.23" height="12.99" fill="#4f5378"/>
<rect x="632.72" y="458.14" width="2.23" height="14.06" fill="#4c5073"/>
<rect x="634.25" y="457.69" width="2.23" height="14.51" fill="#3c3f5d"/>
<rect x="635.78" y="458.70" width="2.23" height="13.50" fill="#4d5175"/>
<rect x="637.31" y="459.12" width="2.23" height="13.08" fill="#4f5377"/>
<rect x="638.84" y="459.98" width="2.23" height="12.22" fill="#53577c"/>
<rect x="640.38" y="460.82" width="2.23" height="11.38" fill="#575b80"/>
<rect x="641.91" y="459.00" width="2.23" height="13.20" fill="#4e5277"/>
<rect x="643.44" y="459.44" width="2.23" height="12.76" fill="#505479"/>
<rect x="644.97" y="457.22" width="2.23" height="14.98" fill="#383b57"/>
<rect x="646.50" y="458.62" width="2.23" height="13.58" fill="#4d5175"/>
<rect x="648.03" y="460.17" width="2.23" height="12.03" fill="#54587d"/>
<rect x="649.56" y="459.87" width="2.23" height="12.33" fill="#52567b"/>
<rect x="651.09" y="460.15" width="2.23" height="12.05" fill="#54587d"/>
<rect x="652.62" y="459.94" width="2.23" height="12.26" fill="#53577b"/>
<rect x="654.15" y="459.71" width="2.23" height="12.49" fill="#52567a"/>
<rect x="655.69" y="457.09" width="2.23" height="15.11" fill="#373a56"/>
<rect x="657.22" y="459.18" width="2.23" height="13.02" fill="#4f5377"/>
<rect x="658.75" y="459.98" width="2.23" height="12.22" fill="#53577c"/>
<rect x="660.28" y="460.27" width="2.23" height="11.93" fill="#54587d"/>
<rect x="661.81" y="460.00" width="2.23" height="12.20" fill="#53577c"/>
<rect x="663.34" y="459.41" width="2.23" height="12.79" fill="#505479"/>
<rect x="664.87" y="458.24" width="2.23" height="13.96" fill="#4c5073"/>
<rect x="666.40" y="456.77" width="2.23" height="15.43" fill="#343752"/>
<rect x="667.93" y="457.97" width="2.23" height="14.23" fill="#4c4f72"/>
<rect x="669.47" y="460.05" width="2.23" height="12.15" fill="#53577c"/>
<rect x="671.00" y="459.67" width="2.23" height="12.53" fill="#51557a"/>
<rect x="672.53" y="459.63" width="2.23" height="12.57" fill="#51557a"/>
<rect x="674.06" y="459.00" width="2.23" height="13.20" fill="#4e5277"/>
<rect x="675.59" y="459.52" width="2.23" height="12.68" fill="#515579"/>
<rect x="677.12" y="457.97" width="2.23" height="14.23" fill="#3e4160"/>
<rect x="678.65" y="458.95" width="2.23" height="13.25" fill="#4e5276"/>
<rect x="680.18" y="459.33" width="2.23" height="12.87" fill="#505478"/>
<rect x="681.71" y="459.67" width="2.23" height="12.53" fill="#51557a"/>
<rect x="683.25" y="459.85" width="2.23" height="12.35" fill="#52567b"/>
<rect x="684.78" y="459.62" width="2.23" height="12.58" fill="#51557a"/>
<rect x="686.31" y="458.44" width="2.23" height="13.76" fill="#4d5174"/>
<rect x="687.84" y="457.30" width="2.23" height="14.90" fill="#393c58"/>
<rect x="689.37" y="458.31" width="2.23" height="13.89" fill="#4d5074"/>
<rect x="690.90" y="460.43" width="2.23" height="11.77" fill="#55597e"/>
<rect x="692.43" y="460.85" width="2.23" height="11.35" fill="#575b80"/>
<rect x="693.96" y="460.27" width="2.23" height="11.93" fill="#54587d"/>
<rect x="695.49" y="459.29" width="2.23" height="12.91" fill="#505478"/>
<rect x="697.03" y="459.74" width="2.23" height="12.46" fill="#52567a"/>
<rect x="698.56" y="457.07" width="2.23" height="15.13" fill="#363a56"/>
<rect x="700.09" y="458.43" width="2.23" height="13.77" fill="#4d5174"/>
<rect x="701.62" y="458.83" width="2.23" height="13.37" fill="#4e5276"/>
<rect x="703.15" y="459.82" width="2.23" height="12.38" fill="#52567b"/>
<rect x="704.68" y="460.04" width="2.23" height="12.16" fill="#53577c"/>
<rect x="706.21" y="459.56" width="2.23" height="12.64" fill="#515579"/>
<rect x="707.74" y="458.36" width="2.23" height="13.84" fill="#4d5174"/>
<rect x="709.27" y="457.22" width="2.23" height="14.98" fill="#383b57"/>
<rect x="710.81" y="457.70" width="2.23" height="14.50" fill="#4b4f71"/>
<rect x="712.34" y="459.09" width="2.23" height="13.11" fill="#4f5377"/>
<rect x="713.87" y="459.19" width="2.23" height="13.01" fill="#4f5377"/>
<rect x="715.40" y="459.76" width="2.23" height="12.44" fill="#52567a"/>
<rect x="716.93" y="458.66" width="2.23" height="13.54" fill="#4d5175"/>
<rect x="718.46" y="457.89" width="2.23" height="14.31" fill="#4b4f72"/>
<rect x="719.99" y="456.70" width="2.23" height="15.50" fill="#343751"/>
<rect x="721.52" y="457.85" width="2.23" height="14.35" fill="#4b4f72"/>
<rect x="723.05" y="459.38" width="2.23" height="12.82" fill="#505479"/>
<rect x="724.59" y="459.65" width="2.23" height="12.55" fill="#51557a"/>
<rect x="726.12" y="460.07" width="2.23" height="12.13" fill="#53577c"/>
<rect x="727.65" y="459.39" width="2.23" height="12.81" fill="#505479"/>
<rect x="729.18" y="458.74" width="2.23" height="13.46" fill="#4e5275"/>
<rect x="730.71" y="457.37" width="2.23" height="14.83" fill="#393c59"/>
<rect x="732.24" y="457.85" width="2.23" height="14.35" fill="#4b4f72"/>
<rect x="733.77" y="457.31" width="2.23" height="14.89" fill="#4a4e70"/>
<rect x="735.30" y="455.89" width="2.23" height="16.31" fill="#464a6a"/>
<rect x="736.83" y="454.38" width="2.23" height="17.82" fill="#2c2e47"/>
<rect x="738.36" y="454.52" width="2.23" height="17.68" fill="#2c2e47"/>
<rect x="739.90" y="453.09" width="2.23" height="19.11" fill="#2c2e47"/>
<rect x="741.43" y="449.82" width="2.23" height="22.38" fill="#1b1c2d"/>
<rect x="742.96" y="452.07" width="2.23" height="20.13" fill="#1b1c2d"/>
<rect x="744.49" y="452.83" width="2.23" height="19.37" fill="#1b1c2d"/>
<rect x="746.02" y="452.48" width="2.23" height="19.72" fill="#1b1c2d"/>
<rect x="747.55" y="452.43" width="2.23" height="19.77" fill="#1b1c2d"/>
<rect x="749.08" y="451.73" width="2.23" height="20.47" fill="#1b1c2d"/>
<rect x="750.61" y="449.74" width="2.23" height="22.46" fill="#1b1c2d"/>
<rect x="752.14" y="448.55" width="2.23" height="23.65" fill="#1b1c2d"/>
<rect x="753.68" y="449.61" width="2.23" height="22.59" fill="#1b1c2d"/>
<rect x="755.21" y="450.94" width="2.23" height="21.26" fill="#1b1c2d"/>
<rect x="756.74" y="450.73" width="2.23" height="21.47" fill="#1b1c2d"/>
<rect x="758.27" y="450.30" width="2.23" height="21.90" fill="#1b1c2d"/>
<rect x="366.31" y="459.61" width="1.53" height="12.59" fill="#4f5377"/>
<rect x="377.03" y="458.48" width="1.53" height="13.72" fill="#434666"/>
<rect x="387.75" y="456.26" width="1.53" height="15.94" fill="#30334c"/>
<rect x="398.46" y="455.64" width="1.53" height="16.56" fill="#2c2e46"/>
<rect x="409.18" y="455.13" width="1.53" height="17.07" fill="#282b42"/>
<rect x="419.90" y="452.45" width="1.53" height="19.75" fill="#24263c"/>
<rect x="430.62" y="451.57" width="1.53" height="20.63" fill="#24263b"/>
<rect x="441.33" y="451.37" width="1.53" height="20.83" fill="#23263b"/>
<rect x="452.05" y="450.86" width="1.53" height="21.34" fill="#23253a"/>
<rect x="462.77" y="450.38" width="1.53" height="21.82" fill="#22253a"/>
<rect x="473.49" y="452.77" width="1.53" height="19.43" fill="#24273c"/>
<rect x="484.20" y="452.31" width="1.53" height="19.89" fill="#24263c"/>
<rect x="494.92" y="451.02" width="1.53" height="21.18" fill="#23253b"/>
<rect x="505.64" y="450.58" width="1.53" height="21.62" fill="#23253a"/>
<rect x="516.36" y="452.40" width="1.53" height="19.80" fill="#24263c"/>
<rect x="527.07" y="452.99" width="1.53" height="19.21" fill="#24273d"/>
<rect x="537.79" y="453.46" width="1.53" height="18.74" fill="#25273e"/>
<rect x="548.51" y="454.21" width="1.53" height="17.99" fill="#26283f"/>
<rect x="559.23" y="456.41" width="1.53" height="15.79" fill="#32344e"/>
<rect x="569.95" y="455.24" width="1.53" height="16.96" fill="#292b42"/>
<rect x="580.66" y="455.48" width="1.53" height="16.72" fill="#2a2d45"/>
<rect x="591.38" y="456.37" width="1.53" height="15.83" fill="#31344e"/>
<rect x="602.10" y="456.52" width="1.53" height="15.68" fill="#32354f"/>
<rect x="612.82" y="456.42" width="1.53" height="15.78" fill="#32344e"/>
<rect x="623.53" y="456.97" width="1.53" height="15.23" fill="#363954"/>
<rect x="634.25" y="457.69" width="1.53" height="14.51" fill="#3c3f5d"/>
<rect x="644.97" y="457.22" width="1.53" height="14.98" fill="#383b57"/>
<rect x="655.69" y="457.09" width="1.53" height="15.11" fill="#373a56"/>
<rect x="666.40" y="456.77" width="1.53" height="15.43" fill="#343752"/>
<rect x="677.12" y="457.97" width="1.53" height="14.23" fill="#3e4160"/>
<rect x="687.84" y="457.30" width="1.53" height="14.90" fill="#393c58"/>
<rect x="698.56" y="457.07" width="1.53" height="15.13" fill="#363a56"/>
<rect x="709.27" y="457.22" width="1.53" height="14.98" fill="#383b57"/>
<rect x="719.99" y="456.70" width="1.53" height="15.50" fill="#343751"/>
<rect x="730.71" y="457.37" width="1.53" height="14.83" fill="#393c59"/>
<rect x="32" y="471.9" width="763.5" height="2" fill="#000"/>
<text x="775.5" y="441.5" font-size="20.5" font-weight="700" fill="#1b1b24" text-anchor="end">737</text>
<text x="56.9" y="497.5" font-size="17.3" font-weight="400" fill="#222" text-anchor="start" letter-spacing="0.55" stroke="#222" stroke-width="0.3">АПР</text>
<text x="94.9" y="497.5" font-size="17.3" font-weight="400" fill="#222" text-anchor="start" letter-spacing="0.55" stroke="#222" stroke-width="0.3">МАЙ</text>
<text x="142.4" y="497.5" font-size="17.3" font-weight="400" fill="#222" text-anchor="start" letter-spacing="0.55" stroke="#222" stroke-width="0.3">ИЮН</text>
<text x="185.5" y="497.5" font-size="17.3" font-weight="400" fill="#222" text-anchor="start" letter-spacing="0.55" stroke="#222" stroke-width="0.3">ИЮЛ</text>
<text x="236.7" y="497.5" font-size="17.3" font-weight="400" fill="#222" text-anchor="start" letter-spacing="0.55" stroke="#222" stroke-width="0.3">АВГ</text>
<text x="284.2" y="497.5" font-size="17.3" font-weight="400" fill="#222" text-anchor="start" letter-spacing="0.55" stroke="#222" stroke-width="0.3">СЕН</text>
<text x="330.3" y="497.5" font-size="17.3" font-weight="400" fill="#222" text-anchor="start" letter-spacing="0.55" stroke="#222" stroke-width="0.3">ОКТ</text>
<text x="378.8" y="497.5" font-size="17.3" font-weight="400" fill="#222" text-anchor="start" letter-spacing="0.55" stroke="#222" stroke-width="0.3">НОЯ</text>
<text x="424.2" y="497.5" font-size="17.3" font-weight="400" fill="#222" text-anchor="start" letter-spacing="0.55" stroke="#222" stroke-width="0.3">ДЕК</text>
<text x="472.9" y="497.5" font-size="17.3" font-weight="400" fill="#222" text-anchor="start" letter-spacing="0.55" stroke="#222" stroke-width="0.3">ЯНВ</text>
<text x="519.8" y="497.5" font-size="17.3" font-weight="400" fill="#222" text-anchor="start" letter-spacing="0.55" stroke="#222" stroke-width="0.3">ФЕВ</text>
<text x="564.2" y="497.5" font-size="17.3" font-weight="400" fill="#222" text-anchor="start" letter-spacing="0.55" stroke="#222" stroke-width="0.3">МАР</text>
<text x="611.7" y="497.5" font-size="17.3" font-weight="400" fill="#222" text-anchor="start" letter-spacing="0.55" stroke="#222" stroke-width="0.3">АПР</text>
<text x="658.3" y="497.5" font-size="17.3" font-weight="400" fill="#222" text-anchor="start" letter-spacing="0.55" stroke="#222" stroke-width="0.3">МАЙ</text>
<text x="704.7" y="497.5" font-size="17.3" font-weight="400" fill="#222" text-anchor="start" letter-spacing="0.55" stroke="#222" stroke-width="0.3">ИЮН</text>
<text x="751.7" y="497.5" font-size="17.3" font-weight="400" fill="#222" text-anchor="start" letter-spacing="0.55" stroke="#222" stroke-width="0.3">ИЮЛ</text>
<text x="33" y="563.5" font-size="27" font-weight="400" fill="#1f1f26" text-anchor="start" letter-spacing="0.6" stroke="#1f1f26" stroke-width="0.3">Число новых смертей</text>
<text x="33" y="604.3" font-size="27" font-weight="400" fill="#1f1f26" text-anchor="start" letter-spacing="0.37" stroke="#1f1f26" stroke-width="0.3">в последние две недели, Россия</text>
<defs><clipPath id="ycl"><rect x="630" y="520" width="180" height="60"/></clipPath></defs><g clip-path="url(#ycl)" fill="#dedede" stroke="#dedede" stroke-linejoin="round">
<text transform="translate(644.09,573) scale(0.7128,1.0055)" x="0" y="0" font-size="51" stroke-width="3.0">Я</text>
<text transform="translate(671.74,573) scale(0.9319,0.9514)" x="0" y="0" font-size="51" stroke-width="1.5">н</text>
<text transform="translate(698.20,573) scale(0.8167,0.9514)" x="0" y="0" font-size="51" stroke-width="1.5">д</text>
<text transform="translate(725.20,573) scale(0.8673,0.9593)" x="0" y="0" font-size="51" stroke-width="1.5">е</text>
<text transform="translate(750.14,573) scale(1.0390,0.9514)" x="0" y="0" font-size="51" stroke-width="1.5">к</text>
<text transform="translate(775.11,573) scale(0.7915,0.9593)" x="0" y="0" font-size="51" stroke-width="1.5">с</text>
</g>
<rect x="55.20" y="702.85" width="45.3" height="93.15" fill="#666a92"/>
<text x="77.85" y="691.6468" font-size="19.5" font-weight="400" fill="#1b1b22" text-anchor="middle" stroke="#1b1b22" stroke-width="0.3">548</text>
<rect x="106.92" y="699.43" width="45.3" height="96.57" fill="#6a6e95"/>
<text x="129.57" y="688.2288" font-size="19.5" font-weight="400" fill="#1b1b22" text-anchor="middle" stroke="#1b1b22" stroke-width="0.3">568</text>
<rect x="158.64" y="693.79" width="45.3" height="102.21" fill="#5c6087"/>
<text x="181.29" y="682.5890999999999" font-size="19.5" font-weight="400" fill="#1b1b22" text-anchor="middle" stroke="#1b1b22" stroke-width="0.3">601</text>
<rect x="210.36" y="690.71" width="45.3" height="105.29" fill="#5b5f86"/>
<text x="233.01000000000002" y="679.5129" font-size="19.5" font-weight="400" fill="#1b1b22" text-anchor="middle" stroke="#1b1b22" stroke-width="0.3">619</text>
<rect x="262.08" y="694.13" width="45.3" height="101.87" fill="#5e6289"/>
<text x="284.72999999999996" y="682.9309" font-size="19.5" font-weight="400" fill="#1b1b22" text-anchor="middle" stroke="#1b1b22" stroke-width="0.3">599</text>
<rect x="313.80" y="692.08" width="45.3" height="103.92" fill="#5e6288"/>
<text x="336.45" y="680.8801" font-size="19.5" font-weight="400" fill="#1b1b22" text-anchor="middle" stroke="#1b1b22" stroke-width="0.3">611</text>
<rect x="365.52" y="685.07" width="45.3" height="110.93" fill="#4e5274"/>
<text x="388.16999999999996" y="673.8732" font-size="19.5" font-weight="400" fill="#1b1b22" text-anchor="middle" stroke="#1b1b22" stroke-width="0.3">652</text>
<rect x="417.24" y="682.17" width="45.3" height="113.83" fill="#3e4161"/>
<text x="439.88999999999993" y="670.9679" font-size="19.5" font-weight="400" fill="#1b1b22" text-anchor="middle" stroke="#1b1b22" stroke-width="0.3">669</text>
<rect x="468.96" y="681.66" width="45.3" height="114.34" fill="#3e4161"/>
<text x="491.60999999999996" y="670.4552" font-size="19.5" font-weight="400" fill="#1b1b22" text-anchor="middle" stroke="#1b1b22" stroke-width="0.3">672</text>
<rect x="520.68" y="680.46" width="45.3" height="115.54" fill="#3d405f"/>
<text x="543.33" y="669.2588999999999" font-size="19.5" font-weight="400" fill="#1b1b22" text-anchor="middle" stroke="#1b1b22" stroke-width="0.3">679</text>
<rect x="572.40" y="677.38" width="45.3" height="118.62" fill="#3d4060"/>
<text x="595.0500000000001" y="666.1827" font-size="19.5" font-weight="400" fill="#1b1b22" text-anchor="middle" stroke="#1b1b22" stroke-width="0.3">697</text>
<rect x="624.12" y="683.19" width="45.3" height="112.81" fill="#3e4160"/>
<text x="646.77" y="671.9933" font-size="19.5" font-weight="400" fill="#1b1b22" text-anchor="middle" stroke="#1b1b22" stroke-width="0.3">663</text>
<rect x="675.84" y="684.73" width="45.3" height="111.27" fill="#4f5376"/>
<text x="698.49" y="673.5314" font-size="19.5" font-weight="400" fill="#1b1b22" text-anchor="middle" stroke="#1b1b22" stroke-width="0.3">654</text>
<rect x="727.56" y="670.55" width="45.3" height="125.45" fill="#75757f"/>
<text x="750.21" y="659.3466999999999" font-size="19.5" font-weight="700" fill="#1b1b22" text-anchor="middle">737</text>
<rect x="32" y="795" width="764" height="2.2" fill="#000"/>
<text x="32.4" y="819.7" font-size="17.3" font-weight="400" fill="#1b1b22" text-anchor="start" letter-spacing="0.5" stroke="#1b1b22" stroke-width="0.3">ИЮН</text>
<text x="129.87" y="819.7" font-size="17.3" font-weight="400" fill="#1b1b22" text-anchor="middle" letter-spacing="0.5" stroke="#1b1b22" stroke-width="0.3">24</text>
<text x="181.58999999999997" y="819.7" font-size="17.3" font-weight="400" fill="#1b1b22" text-anchor="middle" letter-spacing="0.5" stroke="#1b1b22" stroke-width="0.3">25</text>
<text x="233.31" y="819.7" font-size="17.3" font-weight="400" fill="#c5533f" text-anchor="middle" letter-spacing="0.5" stroke="#c5533f" stroke-width="0.3">26</text>
<text x="285.03" y="819.7" font-size="17.3" font-weight="400" fill="#c5533f" text-anchor="middle" letter-spacing="0.5" stroke="#c5533f" stroke-width="0.3">27</text>
<text x="336.75" y="819.7" font-size="17.3" font-weight="400" fill="#1b1b22" text-anchor="middle" letter-spacing="0.5" stroke="#1b1b22" stroke-width="0.3">28</text>
<text x="795" y="819.7" font-size="17.3" font-weight="400" fill="#1b1b22" text-anchor="end" letter-spacing="0.5" stroke="#1b1b22" stroke-width="0.3">ИЮЛ</text>
<rect x="32" y="860" width="764" height="83" rx="12" fill="#f4f4f4"/>
<rect x="418" y="864" width="374" height="76" rx="11" fill="#2a2b47"/>
<text x="224.8" y="910" font-size="24" font-weight="400" fill="#23232e" text-anchor="middle" letter-spacing="0.75" stroke="#23232e" stroke-width="0.9">Заражения</text>
<text x="32.6" y="1000.3" font-size="23.5" font-weight="400" fill="#a8acb5" text-anchor="start" letter-spacing="0.45" stroke="#a8acb5" stroke-width="0.3">По данным сайта</text>
<text x="235.5" y="1000.3" font-size="23.5" font-weight="400" fill="#1b5cac" text-anchor="start" letter-spacing="0.9" stroke="#1b5cac" stroke-width="0.3">стопкоронавирус.рф</text>
<text x="474.3" y="1000.3" font-size="23.5" font-weight="400" fill="#a8acb5" text-anchor="start" letter-spacing="1.05" stroke="#a8acb5" stroke-width="0.3">, университета Джонса</text>
<text x="32.8" y="1032.2" font-size="23.5" font-weight="400" fill="#a8acb5" text-anchor="start" letter-spacing="0.53" stroke="#a8acb5" stroke-width="0.3">Хопкинса и проекта Our World in Data.</text>
<text x="488" y="1032.2" font-size="23.5" font-weight="400" fill="#1b5cac" text-anchor="start" letter-spacing="0.31" stroke="#1b5cac" stroke-width="0.3">Больше данных на</text>
<text x="32.6" y="1063.6" font-size="23.5" font-weight="400" fill="#1b5cac" text-anchor="start" letter-spacing="0.62" stroke="#1b5cac" stroke-width="0.3">DataLens.</text>
<rect x="374" y="729.8" width="396" height="257.2" rx="6.5" fill="#fff" filter="url(#sh)"/>
<text x="390.3" y="764" font-size="19" font-weight="400" fill="#9fa2aa" text-anchor="start" letter-spacing="0.75" stroke="#9fa2aa" stroke-width="0.3">Данные на 6 июля</text>
<text x="390.3" y="804" font-size="19" font-weight="700" fill="#23232e" text-anchor="start" letter-spacing="0.33">Новых смертей</text>
<text x="753" y="804" font-size="19" font-weight="700" fill="#23232e" text-anchor="end">737</text>
<text x="390.3" y="835.8" font-size="19" font-weight="400" fill="#23232e" text-anchor="start" letter-spacing="0.8" stroke="#23232e" stroke-width="0.3">По сравнению с 5 июля</text>
<text x="753.6" y="835.8" font-size="19" font-weight="400" fill="#23232e" text-anchor="end" stroke="#23232e" stroke-width="0.3">+12,7%</text>
<rect x="390.8" y="857.8" width="363.2" height="2" fill="#c6c6cb"/>
<text x="390.3" y="893.4" font-size="19" font-weight="700" fill="#23232e" text-anchor="start" letter-spacing="0.45">Всего смертей</text>
<text x="754.3" y="893.4" font-size="19" font-weight="700" fill="#23232e" text-anchor="end" letter-spacing="0.6">139 316</text>
<text x="753.6" y="925.6" font-size="19" font-weight="400" fill="#23232e" text-anchor="end" stroke="#23232e" stroke-width="0.3">+0,5%</text>
<text x="390.3" y="925.6" font-size="19" font-weight="400" fill="#23232e" text-anchor="start" letter-spacing="0.8" stroke="#23232e" stroke-width="0.3">По сравнению с 5 июля</text>
<text x="390.3" y="956.9" font-size="19" font-weight="400" fill="#23232e" text-anchor="start" letter-spacing="0.6" stroke="#23232e" stroke-width="0.3">На 100 тыс. человек</text>
<text x="754.7" y="956.9" font-size="19" font-weight="400" fill="#23232e" text-anchor="end" letter-spacing="1.1" stroke="#23232e" stroke-width="0.3">94,8</text>
</svg></body></html>
